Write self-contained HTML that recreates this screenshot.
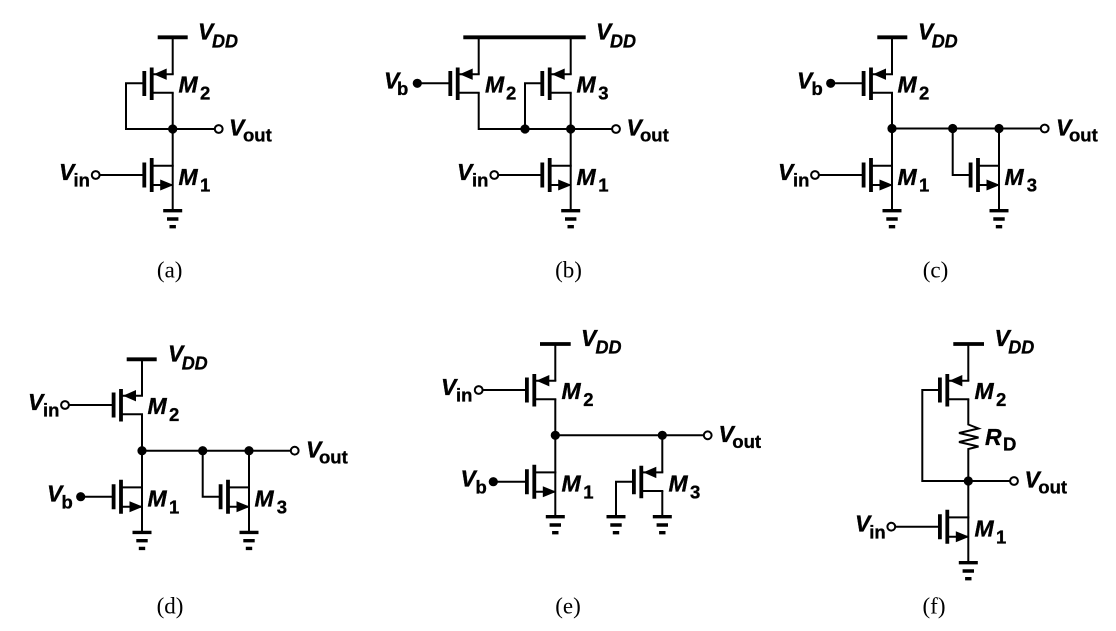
<!DOCTYPE html>
<html><head><meta charset="utf-8"><style>
html,body{margin:0;padding:0;background:#fff;width:1116px;height:631px;overflow:hidden}
svg{display:block}
.w{fill:none;stroke:#000;stroke-width:2}
circle{r:4.6px}
circle.w{r:3.9px}
text{font-family:"Liberation Sans",sans-serif;fill:#000;stroke:#000;stroke-width:.35}
.v{font-size:23px;font-weight:bold;font-style:italic}
.s{font-size:18.5px;font-weight:bold}
.i{font-size:18px;font-weight:bold;font-style:italic}
.m{font-size:23px;font-weight:bold;font-style:italic}
.c{font-family:"Liberation Serif",serif;font-size:23px;text-anchor:middle;stroke:none}
</style></head><body>
<svg width="1116" height="631" viewBox="0 0 1116 631" xmlns="http://www.w3.org/2000/svg">
<defs>
<g id="n">
<path class="w" d="M-21 -9.3H1M-21 10H0"/>
<path d="M-21 -17V17M-28.4 -12.5V12.5" stroke="#000" stroke-width="3.8" fill="none"/>
<path d="M1 10L-12.5 4.5V15.5Z"/>
</g>
<g id="p">
<path class="w" d="M-21 -9.3H1M-21 9.3H1"/>
<path d="M-21 -16V16.5M-28.4 -12.5V12.5" stroke="#000" stroke-width="3.8" fill="none"/>
<path d="M-19 -9.3L-6 -15V-3.6Z"/>
</g>
<g id="g">
<path d="M-9.5 0H9.5M-5.7 8.3H5.7M-3.2 16H3.2" stroke="#000" stroke-width="3.4" fill="none"/>
</g>
</defs>

<!-- (a) -->
<path d="M157.7 37.3H187.7" stroke="#000" stroke-width="3.8"/>
<path class="w" d="M172.7 37V74.2M172.7 92.8V210.7M144 83.3H126V129H214.7M99.7 175H144"/>
<use href="#p" x="172.7" y="83.5"/><use href="#n" x="172.7" y="175"/><use href="#g" x="172.7" y="210.7"/>
<circle cx="172.7" cy="129" r="4.2"/><circle class="w" cx="218.7" cy="129" r="3.7" style="fill:#fff"/><circle class="w" cx="95.7" cy="175" r="3.7" style="fill:#fff"/>
<text class="v" x="198" y="39.5">V</text><text class="i" x="212" y="47.3">DD</text>
<text class="m" x="178.5" y="92.7">M</text><text class="s" x="200" y="99.3">2</text>
<text class="m" x="178.5" y="185">M</text><text class="s" x="200" y="191.7">1</text>
<text class="v" x="229" y="135.7">V</text><text class="s" x="243" y="141.7">out</text>
<text class="v" x="59" y="180">V</text><text class="s" x="73.5" y="186.7">in</text>
<text class="c" x="169.7" y="277.7">(a)</text>

<!-- (b) -->
<path d="M463.3 37.3H585.7" stroke="#000" stroke-width="3.8"/>
<path class="w" d="M478.7 37V74.2M570.7 37V74.2M478.7 92.8V129H612M570.7 92.8V210.7M421 83.3H450.7M542.3 83.3H525V129M498.3 175H542.3"/>
<use href="#p" x="478.7" y="83.5"/><use href="#p" x="570.7" y="83.5"/><use href="#n" x="570.7" y="175"/><use href="#g" x="570.7" y="210.7"/>
<circle cx="417.3" cy="83.3" r="4.2"/><circle cx="525" cy="129" r="4.2"/><circle cx="570.7" cy="129" r="4.2"/>
<circle class="w" cx="616" cy="129" r="3.7" style="fill:#fff"/><circle class="w" cx="494.3" cy="175" r="3.7" style="fill:#fff"/>
<text class="v" x="596" y="39.5">V</text><text class="i" x="610" y="47.3">DD</text>
<text class="v" x="384" y="88.3">V</text><text class="s" x="397" y="95">b</text>
<text class="m" x="485" y="92.7">M</text><text class="s" x="506" y="99.3">2</text>
<text class="m" x="576.5" y="92.7">M</text><text class="s" x="598.3" y="99.3">3</text>
<text class="m" x="576.5" y="185">M</text><text class="s" x="598.3" y="191.7">1</text>
<text class="v" x="626.5" y="135.7">V</text><text class="s" x="640" y="141.7">out</text>
<text class="v" x="457" y="180">V</text><text class="s" x="472" y="186.7">in</text>
<text class="c" x="568.5" y="277.7">(b)</text>

<!-- (c) -->
<path d="M877.3 37.3H907.3" stroke="#000" stroke-width="3.8"/>
<path class="w" d="M892 37V74.2M892 92.8V210.7M892 128.5H1040.7M834.7 83.3H863.6M819 175H863.6M999 128.5V210.7M952.7 128.5V175H970.6"/>
<use href="#p" x="892" y="83.5"/><use href="#n" x="892" y="175"/><use href="#n" x="999" y="175"/><use href="#g" x="892" y="210.7"/><use href="#g" x="999" y="210.7"/>
<circle cx="830.7" cy="83.3" r="4.2"/><circle cx="892" cy="128.5" r="4.2"/><circle cx="952.7" cy="128.5" r="4.2"/><circle cx="999" cy="128.5" r="4.2"/>
<circle class="w" cx="1044.7" cy="128.5" r="3.7" style="fill:#fff"/><circle class="w" cx="815" cy="175" r="3.7" style="fill:#fff"/>
<text class="v" x="918" y="39.5">V</text><text class="i" x="931.7" y="47.3">DD</text>
<text class="v" x="797" y="88.3">V</text><text class="s" x="811.5" y="95">b</text>
<text class="m" x="897.5" y="92.7">M</text><text class="s" x="919" y="99.3">2</text>
<text class="m" x="897.5" y="185">M</text><text class="s" x="919" y="191.7">1</text>
<text class="m" x="1004.5" y="185">M</text><text class="s" x="1026.7" y="191.7">3</text>
<text class="v" x="1056" y="135.5">V</text><text class="s" x="1069" y="141.5">out</text>
<text class="v" x="778" y="180">V</text><text class="s" x="793" y="186.7">in</text>
<text class="c" x="935.5" y="277.7">(c)</text>

<!-- (d) -->
<path d="M126.7 359.3H156.7" stroke="#000" stroke-width="3.8"/>
<path class="w" d="M142 359V395.7M142 414.3V532.4M142 450.7H290.7M69 405H113.6M84.7 496.7H113.6M249 450.7V532.4M202.7 450.7V496.7H220.6"/>
<use href="#p" x="142" y="405"/><use href="#n" x="142" y="496.7"/><use href="#n" x="249" y="496.7"/><use href="#g" x="142" y="532.4"/><use href="#g" x="249" y="532.4"/>
<circle cx="80.7" cy="496.7" r="4.2"/><circle cx="142" cy="450.7" r="4.2"/><circle cx="202.7" cy="450.7" r="4.2"/><circle cx="249" cy="450.7" r="4.2"/>
<circle class="w" cx="294.7" cy="450.7" r="3.7" style="fill:#fff"/><circle class="w" cx="65" cy="405" r="3.7" style="fill:#fff"/>
<text class="v" x="168" y="361.5">V</text><text class="i" x="181.7" y="369.3">DD</text>
<text class="v" x="28" y="410">V</text><text class="s" x="43" y="416.7">in</text>
<text class="v" x="47" y="501.7">V</text><text class="s" x="61.5" y="508.4">b</text>
<text class="m" x="147.5" y="414.2">M</text><text class="s" x="169" y="420.8">2</text>
<text class="m" x="147.5" y="506.7">M</text><text class="s" x="169" y="513.4">1</text>
<text class="m" x="254.5" y="506.7">M</text><text class="s" x="276.7" y="513.4">3</text>
<text class="v" x="306" y="457.4">V</text><text class="s" x="319" y="463.4">out</text>
<text class="c" x="170" y="613.5">(d)</text>

<!-- (e) -->
<path d="M540 344H570.7" stroke="#000" stroke-width="3.8"/>
<path class="w" d="M555.3 344V380.7M555.3 399.3V516.7M555.3 435.3H703.7M482.7 390H527M497.3 481.7H527M662.3 435.3V472.4M662.3 491V516.7M634 481.7H616V516.7"/>
<use href="#p" x="555.3" y="390"/><use href="#n" x="555.3" y="481.7"/><use href="#p" x="662.3" y="481.7"/>
<use href="#g" x="555.3" y="516.7"/><use href="#g" x="616" y="516.7"/><use href="#g" x="662.3" y="516.7"/>
<circle cx="493.3" cy="481.7" r="4.2"/><circle cx="555.3" cy="435.3" r="4.2"/><circle cx="662.3" cy="435.3" r="4.2"/>
<circle class="w" cx="707.7" cy="435.3" r="3.7" style="fill:#fff"/><circle class="w" cx="478.7" cy="390" r="3.7" style="fill:#fff"/>
<text class="v" x="581" y="346">V</text><text class="i" x="595.5" y="353.5">DD</text>
<text class="v" x="441" y="395">V</text><text class="s" x="456" y="401.7">in</text>
<text class="v" x="460.5" y="486.7">V</text><text class="s" x="475.5" y="493.4">b</text>
<text class="m" x="561.5" y="399.2">M</text><text class="s" x="583.3" y="405.8">2</text>
<text class="m" x="561.5" y="491.7">M</text><text class="s" x="583.3" y="498.4">1</text>
<text class="m" x="668.5" y="491.7">M</text><text class="s" x="690" y="498.4">3</text>
<text class="v" x="718.5" y="442">V</text><text class="s" x="732.3" y="448">out</text>
<text class="c" x="568" y="613.5">(e)</text>

<!-- (f) -->
<path d="M953.3 344H984" stroke="#000" stroke-width="3.8"/>
<path class="w" d="M968.3 344V380.7M968.3 399.3V424.5L978.5 428.5 959 433 978.5 437.5 959 442 978.5 446.5 968.3 449V562.7M939.9 390H922.3V481H1010M895.3 526.7H939.9"/>
<use href="#p" x="968.3" y="390"/><use href="#n" x="968.3" y="526.7"/><use href="#g" x="968.3" y="562.7"/>
<circle cx="968.3" cy="481" r="4.2"/>
<circle class="w" cx="1014" cy="481" r="3.7" style="fill:#fff"/><circle class="w" cx="891.3" cy="526.7" r="3.7" style="fill:#fff"/>
<text class="v" x="994.5" y="346">V</text><text class="i" x="1008.3" y="353.5">DD</text>
<text class="m" x="974.5" y="399.2">M</text><text class="s" x="996" y="405.8">2</text>
<text class="m" x="985" y="445">R</text><text class="s" x="1003" y="450.7">D</text>
<text class="v" x="1024.5" y="487.7">V</text><text class="s" x="1038.3" y="493.7">out</text>
<text class="v" x="855" y="531.7">V</text><text class="s" x="869.3" y="538.4">in</text>
<text class="m" x="974.5" y="536.7">M</text><text class="s" x="996" y="543.4">1</text>
<text class="c" x="934" y="613.5">(f)</text>
</svg>
</body></html>
